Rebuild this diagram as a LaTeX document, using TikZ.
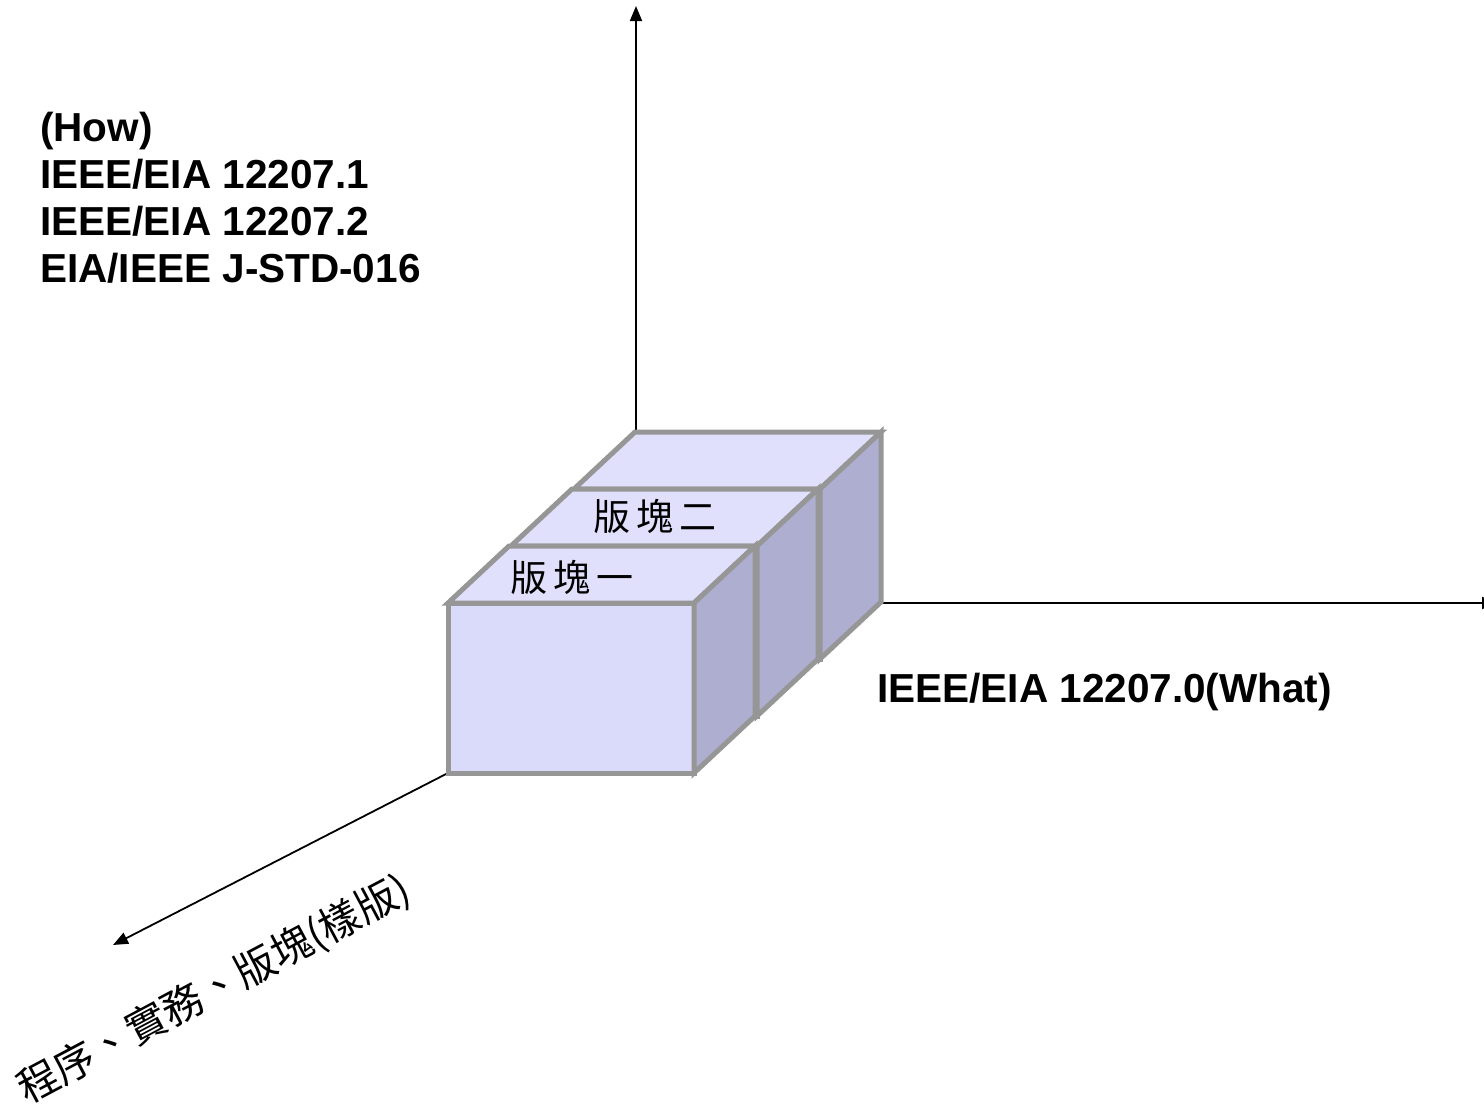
\documentclass[tikz,border=0pt]{standalone}
\usepackage{fontspec}
\setmainfont{Liberation Sans}
\newfontfamily\cjk{Noto Sans CJK TC}
\usetikzlibrary{arrows.meta,calc}

\definecolor{blockfront}{HTML}{DADAFA}
\definecolor{blocktop}{HTML}{E0E0FC}
\definecolor{blockside}{HTML}{AEAED0}
\definecolor{blockedge}{HTML}{969696}

% one block: #1 = front top-left corner
\newcommand\drawblock[1]{%
  \draw[blockline, fill=blockfront] (#1) rectangle ++(246,170);
  \draw[blockline, fill=blocktop] (#1) -- ++(61,-57) -- ++(246,0) -- ++(-61,57) -- cycle;
  \draw[blockline, fill=blockside] ($(#1)+(246,0)$) -- ++(61,-57) -- ++(0,170) -- ++(-61,57) -- cycle;
}

\begin{document}
\begin{tikzpicture}[
    x=1pt, y=-1pt,
    blockline/.style={draw=blockedge, line width=5pt, line join=miter},
    axis/.style={-{Triangle[width=12pt,length=15pt]}, line width=1.8pt},
    stdtext/.style={font=\fontsize{40.5}{47}\selectfont\bfseries, inner sep=0pt, align=left},
    blocktext/.style={font=\fontsize{37}{40}\selectfont\cjk, inner sep=0pt}
]
\useasboundingbox (0,0) rectangle (1484,1106);

% axes
\coordinate (vbase) at (636,440);
\coordinate (vtip) at (636,6);
\coordinate (hbase) at (870,603);
\coordinate (htip) at (1497,603);
\coordinate (dbase) at (448,773);
\coordinate (dtip) at (113,945);

\draw[axis] (vbase) -- (vtip);
\draw[axis] (hbase) -- (htip);
\draw[axis] (dbase) -- (dtip);

% blocks, back to front
\coordinate (block3) at (574,489);
\coordinate (block2) at (511,546);
\coordinate (block1) at (448,603);
\drawblock{block3}
\drawblock{block2}
\drawblock{block1}

\node[blocktext] (b2label) at (655,516) {版\,塊\,二};
\node[blocktext] (b1label) at (572,577) {版\,塊\,一};

% axis labels
\node[stdtext, anchor=west] (how) at (40,198) {(How)\\IEEE/EIA 12207.1\\IEEE/EIA 12207.2\\EIA/IEEE J-STD-016};
\node[stdtext, anchor=west] (what) at (877,692) {IEEE/EIA 12207.0(What)};
\node[font=\fontsize{41}{44}\selectfont\cjk, inner sep=0pt, rotate=28] (practice) at (214,990) {程序、實務、版塊(樣版)};

\end{tikzpicture}
\end{document}
